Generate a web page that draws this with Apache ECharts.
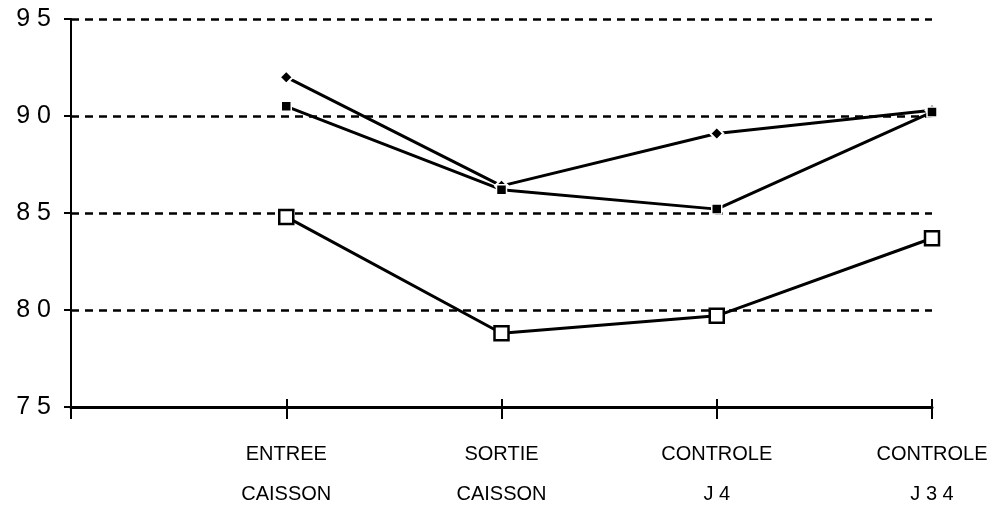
<!DOCTYPE html>
<html><head><meta charset="utf-8">
<script src="https://cdn.jsdelivr.net/npm/echarts@6/dist/echarts.min.js"></script>
<style>html,body{margin:0;padding:0;background:#fff}#c{width:1001px;height:508px}</style>
</head><body><div id="c"></div>
<script>
const categories = ['ENTREE\nCAISSON', 'SORTIE\nCAISSON', 'CONTROLE\nJ 4', 'CONTROLE\nJ 3 4'];
const seriesDiamond = [92.0, 86.4, 89.1, 90.3];
const seriesSquare = [90.5, 86.2, 85.2, 90.2];
const seriesOpen = [84.8, 78.8, 79.7, 83.7];
const yTicks = [75, 80, 85, 90, 95];

const cats = [''].concat(categories);
const pad = v => ['-'].concat(v);
const chart = echarts.init(document.getElementById('c'));
const catAxisBase = {
  type: 'category', data: cats, boundaryGap: false,
};
chart.setOption({
  backgroundColor: '#fff',
  animation: false,
  grid: { left: 71, right: 69, top: 19, bottom: 101, containLabel: false, outerBoundsMode: 'none' },
  xAxis: [
    Object.assign({}, catAxisBase, {
      axisLine: { lineStyle: { color: '#000', width: 3 } },
      axisTick: { show: true, length: 12, lineStyle: { color: '#000', width: 2 }, interval: 0 },
      axisLabel: { color: '#000', fontFamily: '"Liberation Sans Narrow", "Liberation Sans", Arial, sans-serif',
        fontSize: 20, lineHeight: 40, margin: 27, interval: 0 },
      splitLine: { show: false }
    }),
    Object.assign({}, catAxisBase, {
      position: 'bottom',
      axisLine: { show: false },
      axisTick: { show: true, inside: true, length: 8, lineStyle: { color: '#000', width: 2 }, interval: 0 },
      axisLabel: { show: false },
      splitLine: { show: false }
    })
  ],
  yAxis: {
    type: 'value', min: yTicks[0], max: yTicks[yTicks.length - 1], interval: 5,
    axisLine: { show: true, lineStyle: { color: '#000', width: 2 } },
    axisTick: { show: true, length: 7, lineStyle: { color: '#000', width: 2 } },
    axisLabel: { color: '#000', fontFamily: '"Liberation Sans", Arial, sans-serif', fontSize: 25, margin: 20,
      formatter: v => String(v).split('').join(' ') },
    splitLine: { show: true, lineStyle: { color: '#000', width: 2.5, type: [8, 6] } }
  },
  series: [
    { type: 'line', data: pad(seriesDiamond), xAxisIndex: 0, symbol: 'diamond', symbolSize: 13,
      lineStyle: { color: '#000', width: 3 },
      itemStyle: { color: '#000', borderColor: '#fff', borderWidth: 2 }, z: 3 },
    { type: 'line', data: pad(seriesSquare), xAxisIndex: 0, symbol: 'rect', symbolSize: 10,
      lineStyle: { color: '#000', width: 3 },
      itemStyle: { color: '#000', borderColor: '#fff', borderWidth: 1.5 }, z: 3 },
    { type: 'line', data: pad(seriesOpen), xAxisIndex: 0, symbol: 'rect', symbolSize: 14,
      lineStyle: { color: '#000', width: 3 },
      itemStyle: { color: '#fff', borderColor: '#000', borderWidth: 2.5 }, z: 3 }
  ]
});
</script></body></html>
